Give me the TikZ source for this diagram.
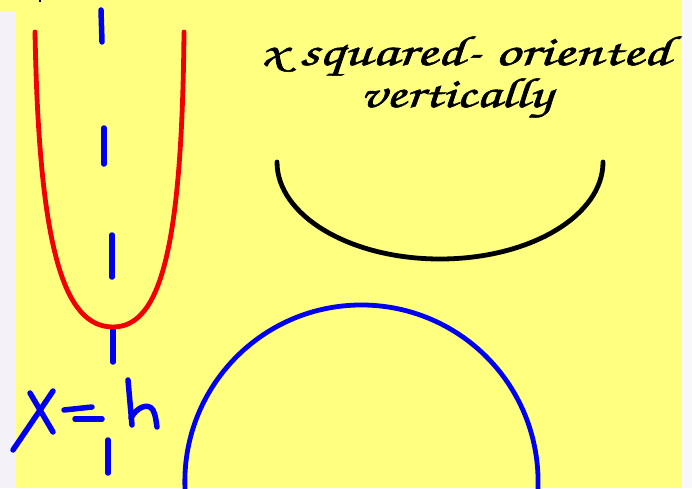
\documentclass[tikz,border=0pt]{standalone}
\usepackage{graphicx}
\definecolor{bgyellow}{RGB}{255,255,128}
\definecolor{stripL}{RGB}{244,241,248}
\definecolor{stripR}{RGB}{248,247,250}
\definecolor{penblue}{RGB}{0,0,240}
\definecolor{penred}{RGB}{240,0,0}
\newcommand{\chancery}{\fontencoding{T1}\fontfamily{pzc}\fontseries{mb}\fontshape{it}\selectfont}
\newcommand{\heavytext}[1]{\special{pdf:literal direct 2 Tr 0.12 w}#1\special{pdf:literal direct 0 Tr}}
\tikzset{
  bluedash/.style={draw=penblue,line width=5.5pt,line cap=round},
  pen/.style={draw=penblue,line width=5.5pt,line cap=round,line join=round},
  curve/.style={line width=4.8pt,line cap=round},
  label/.style={inner sep=0pt,anchor=center,text=black}
}
\begin{document}
\begin{tikzpicture}[x=1pt,y=1pt]
\useasboundingbox (0,0) rectangle (692,488);
\clip (0,0) rectangle (692,488);
\fill[bgyellow] (0,0) rectangle (692,488);
\fill[stripL] (0,0) rectangle (16,476);
\fill[stripR] (682,0) rectangle (692,488);
% tiny cut-off mark at top
\draw[black,line width=2pt] (40,489) -- (40,486);
% dashed axis x = h
\draw[bluedash] (101,478) -- (102,446);
\draw[bluedash] (104,360) -- (104,324);
\draw[bluedash] (112,253) -- (112,211);
\draw[bluedash] (113,158) -- (113,126);
\draw[bluedash] (108,48) -- (108,15);
% red parabola
\draw[curve,penred] (35,456) .. controls (39,238) and (64,161) .. (113,161)
  .. controls (160,161) and (182,238) .. (184,456);
% black arc
\draw[curve,black] (277,326) arc[start angle=180,end angle=360,x radius=163,y radius=97];
% blue arc
\draw[curve,penblue] (185.3,-5.9) arc[start angle=184,end angle=-4,radius=176.6];
% handwritten x = h
\draw[pen] (30,95) -- (53,56);
\draw[pen] (53,97) -- (13,38);
\draw[pen] (64,78) -- (92,81);
\draw[pen] (75,69) -- (102,69);
\draw[pen] (128,108) -- (132,63);
\draw[pen] (131,70) .. controls (136,80) and (148,86) .. (153,78) .. controls (156,72) and (156,66) .. (157,61);
% text
\node[label] (t1) at (465,431.5) {\resizebox*{410pt}{43pt}{\heavytext{\chancery x squared- oriented}}};
\node[label] (t2) at (456,389.5) {\resizebox*{192pt}{43pt}{\heavytext{\chancery vertically}}};
\end{tikzpicture}
\end{document}
